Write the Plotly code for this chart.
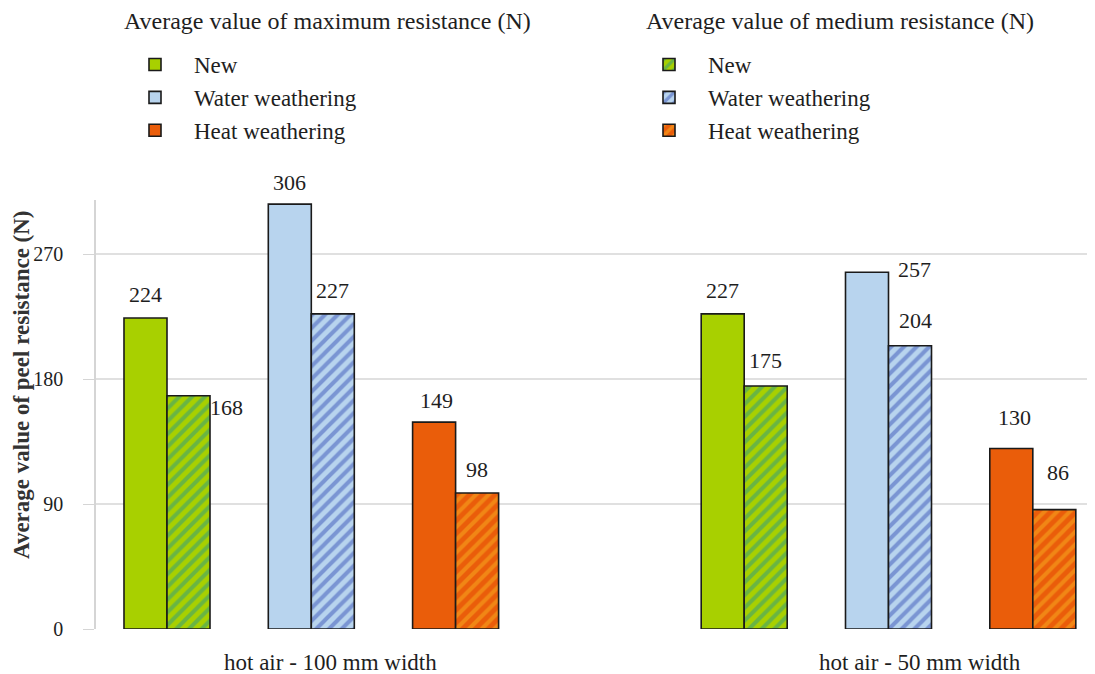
import plotly.graph_objects as go

# ---- data ----
groups = ["hot air - 100 mm width", "hot air - 50 mm width"]
series = ["New", "Water weathering", "Heat weathering"]
max_values = {  # average value of maximum resistance (N)
    "New": [224, 227],
    "Water weathering": [306, 257],
    "Heat weathering": [149, 130],
}
med_values = {  # average value of medium resistance (N)
    "New": [168, 175],
    "Water weathering": [227, 204],
    "Heat weathering": [98, 86],
}
y_ticks = [0, 90, 180, 270]

# ---- style ----
solid_colors = {"New": "#a8d000", "Water weathering": "#b8d4ee", "Heat weathering": "#ea5d0a"}
stripe_colors = {"New": "#2a9a86", "Water weathering": "#3c55b8", "Heat weathering": "#f7b020"}
FONT = "Liberation Serif, Times New Roman, serif"
TXT = "#1e1e1e"
BAR_W = 0.298
GROUP_STEP = 4

# page offset (body margin) compensation: picture px = figure px + OFF
OFF = 8
W, H = 1095 - OFF, 674 - OFF
PL, PT, PB, PR = 96, 200, 629, 1095  # plot area in picture px
L, T, B, R = PL - OFF, PT - OFF, H - (PB - OFF), W - (PR - OFF)
PW, PH = PR - PL, PB - PT


def px_to_paper(px, py):
    return (px - PL) / PW, (PB - py) / PH


# value label offsets in px: (xshift, yshift above bar top)
max_label_shift = {
    "New": [(0, 24), (0, 23)],
    "Water weathering": [(0, 22), (47, 3)],
    "Heat weathering": [(2, 22), (3, 31)],
}
med_label_shift = {
    "New": [(38, -12), (0, 26)],
    "Water weathering": [(0, 23), (5, 25)],
    "Heat weathering": [(0, 23), (4, 37)],
}

fig = go.Figure()

annotations = []
for i, s in enumerate(series):
    xs = [g * GROUP_STEP + i for g in range(len(groups))]
    fig.add_trace(go.Bar(
        x=xs, y=max_values[s], name=s, width=BAR_W, offset=-BAR_W,
        marker=dict(color=solid_colors[s], line=dict(color="#1a1a1a", width=1.6)),
        legend="legend",
    ))
    fig.add_trace(go.Bar(
        x=xs, y=med_values[s], name=s, width=BAR_W, offset=0,
        marker=dict(color=solid_colors[s], line=dict(color="#1a1a1a", width=1.6),
                    pattern=dict(shape="/", fgcolor=stripe_colors[s], size=9, solidity=0.45)),
        legend="legend2",
    ))
    for k, x in enumerate(xs):
        dx, dy = max_label_shift[s][k]
        annotations.append(dict(x=x - BAR_W / 2, y=max_values[s][k], text=str(max_values[s][k]),
                                showarrow=False, xshift=dx, yshift=dy,
                                font=dict(family=FONT, size=22, color=TXT)))
        dx, dy = med_label_shift[s][k]
        annotations.append(dict(x=x + BAR_W / 2, y=med_values[s][k], text=str(med_values[s][k]),
                                showarrow=False, xshift=dx, yshift=dy,
                                font=dict(family=FONT, size=22, color=TXT)))

# group labels
group_x = [1.13, 5.22]
for g, name in enumerate(groups):
    annotations.append(dict(x=group_x[g], y=0, yshift=-33, text=name, showarrow=False,
                            font=dict(family=FONT, size=23, color=TXT)))

# legend titles
for px, txt in [(122, "Average value of maximum resistance (N)"),
                (644, "Average value of medium resistance (N)")]:
    ax, ay = px_to_paper(px, 21)
    annotations.append(dict(xref="paper", yref="paper", x=ax, y=ay,
                            xanchor="left", yanchor="middle", showarrow=False, text=txt,
                            font=dict(family=FONT, size=24, color=TXT)))

# y-axis title
tx, ty = px_to_paper(21, 385)
annotations.append(dict(xref="paper", yref="paper", x=tx, y=ty, textangle=-90,
                        xanchor="center", yanchor="middle", showarrow=False,
                        text="<b>Average value of peel resistance (N)</b>",
                        font=dict(family=FONT, size=23, color="#333")))

legend_common = dict(
    xref="paper", yref="paper", yanchor="top", xanchor="left",
    bgcolor="rgba(0,0,0,0)", font=dict(family=FONT, size=23, color=TXT),
    itemwidth=68, tracegroupgap=0, itemclick=False, itemdoubleclick=False,
)
l1x, l1y = px_to_paper(116, 43)
l2x, l2y = px_to_paper(630, 43)
fig.update_layout(
    width=W, height=H,
    paper_bgcolor="white", plot_bgcolor="white",
    margin=dict(l=L, r=R, t=T, b=B),
    barmode="overlay",
    font=dict(family=FONT, size=22, color=TXT),
    legend=dict(x=l1x, y=l1y, **legend_common),
    legend2=dict(x=l2x, y=l2y, **legend_common),
    annotations=annotations,
    xaxis=dict(range=[-0.492, 6.431], showticklabels=False, showgrid=False,
               zeroline=False, showline=False, ticks=""),
    yaxis=dict(range=[0, 309], tickvals=y_ticks, showgrid=True, gridcolor="#e0e0e0",
               gridwidth=1.5, zeroline=False, showline=True, linecolor="#d5d5d5",
               linewidth=1.5, ticks="outside", ticklen=11, tickcolor="#d5d5d5",
               ticklabelstandoff=16,
               tickfont=dict(family=FONT, size=20, color=TXT)),
)

fig.write_html("out.html")
